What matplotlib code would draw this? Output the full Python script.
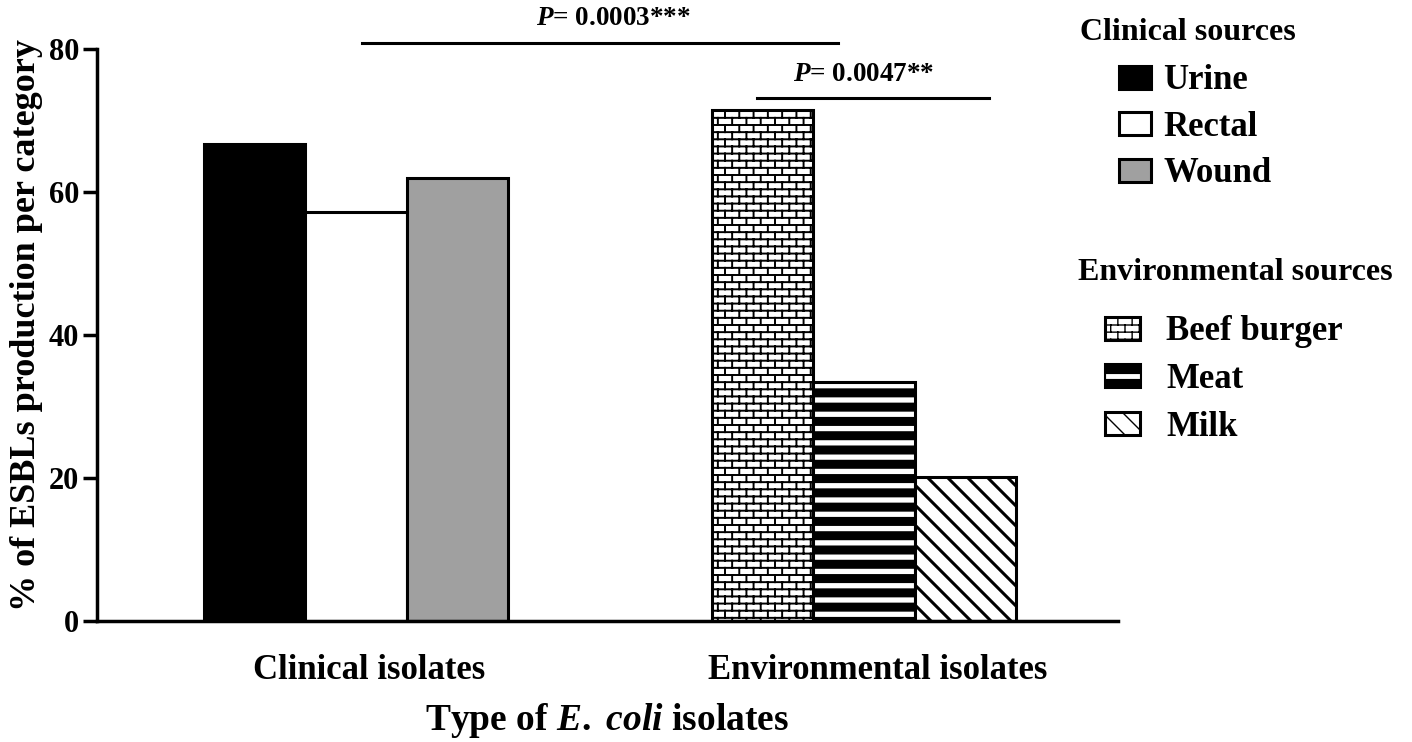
import warnings
import numpy as np
import matplotlib
matplotlib.use('Agg')
import matplotlib.pyplot as plt
import matplotlib.hatch as mhatch
from matplotlib.path import Path
from matplotlib.patches import Patch, Rectangle
from matplotlib.lines import Line2D
from matplotlib.legend_handler import HandlerPatch

warnings.filterwarnings('ignore')

# data
groups = ['Clinical isolates', 'Environmental isolates']
clinical_sources = ['Urine', 'Rectal', 'Wound']
clinical_values = [66.7, 57.2, 62.0]
env_sources = ['Beef burger', 'Meat', 'Milk']
env_values = [71.5, 33.4, 20.1]
p_values = ['0.0003***', '0.0047**']
yticks = [0, 20, 40, 60, 80]


# extra hatch patterns: B = brick, M = thick stripes, K = sparse back diagonal
class ExtraHatch(mhatch.HatchPatternBase):
    def __init__(self, hatch, density):
        self.segs = []
        if 'B' in hatch:
            rows, cols = 14, 7
            for r in range(-1, rows):
                y0 = (r + 0.5) / rows
                y1 = (r + 1.5) / rows
                if r >= 0:
                    self.segs.append(((0, y0), (1, y0)))
                shift = 0.5 / cols if r % 2 else 0
                for c in range(cols):
                    x = (c + 0.25) / cols + shift
                    self.segs.append(((x, y0), (x, y1)))
        if 'M' in hatch:
            n = 7
            for k in range(n):
                y = (k + 0.5) / n
                self.segs.append(((0, y), (1, y)))
        if 'K' in hatch:
            n = 5
            for k in range(-n, n + 1):
                o = (k + 0.5) / n
                self.segs.append(((o, 1), (o + 1, 0)))
        self.num_vertices = len(self.segs) * 2

    def set_vertices_and_codes(self, vertices, codes):
        vertices[:] = np.array(self.segs, dtype=float).reshape(-1, 2)
        codes[0::2] = Path.MOVETO
        codes[1::2] = Path.LINETO


mhatch._hatch_types.append(ExtraHatch)


# legend key for the striped bar: black box with one white line
class StripeHandler(HandlerPatch):
    def create_artists(self, legend, orig_handle, xdescent, ydescent,
                       width, height, fontsize, trans):
        r = Rectangle((-xdescent, -ydescent), width, height, facecolor='black',
                      edgecolor='black', linewidth=2.2, transform=trans)
        ym = -ydescent + height / 2
        ln = Line2D([-xdescent + 2, -xdescent + width - 2], [ym, ym],
                    color='white', lw=3.5, transform=trans)
        return [r, ln]


plt.rcParams['font.family'] = 'Liberation Serif'
plt.rcParams['font.weight'] = 'bold'
plt.rcParams['axes.labelweight'] = 'bold'
plt.rcParams['mathtext.fontset'] = 'custom'
plt.rcParams['mathtext.rm'] = 'Liberation Serif:bold'
plt.rcParams['mathtext.it'] = 'Liberation Serif:bold:italic'
plt.rcParams['mathtext.bf'] = 'Liberation Serif:bold'

clin_colors = ['black', 'white', '#a0a0a0']
env_hatches = [('B', 1.4), ('M', 6.5), ('K', 2.2)]


def set_hlw(p, lw):
    if hasattr(p, 'set_hatch_linewidth'):
        p.set_hatch_linewidth(lw)


fig = plt.figure(figsize=(14.12, 7.42), dpi=100)
ax = fig.add_axes([0.0687, 0.163, 0.7231, 0.771])

centers = [2.5, 7.5]
offsets = [-1, 0, 1]

for off, val, col in zip(offsets, clinical_values, clin_colors):
    ax.bar(centers[0] + off, val, width=1.0, facecolor=col,
           edgecolor='black', linewidth=2.2)

for off, val, (h, lw) in zip(offsets, env_values, env_hatches):
    bars = ax.bar(centers[1] + off, val, width=1.0, facecolor='white',
                  edgecolor='black', linewidth=2.2, hatch=h)
    for b in bars:
        set_hlw(b, lw)

ax.set_xlim(-0.05, 10.0)
ax.set_ylim(0, 80)
ax.set_yticks(yticks)
ax.set_xticks([c + 0.13 for c in centers])
ax.set_xticklabels(groups, fontsize=25)
ax.tick_params(axis='x', length=0, pad=24)
ax.tick_params(axis='y', length=10, width=2.5, labelsize=22, pad=3)
for s in ['top', 'right']:
    ax.spines[s].set_visible(False)
for s in ['left', 'bottom']:
    ax.spines[s].set_linewidth(2.5)

ax.set_ylabel('% of ESBLs production per category', fontsize=26)
ax.yaxis.set_label_coords(-0.053, 0.517)
ax.set_xlabel(r'Type of $\mathit{E.}$ $\mathit{coli}$ isolates', fontsize=27,
              labelpad=10)

# significance brackets
ax.plot([2.56, 7.24], [80.8, 80.8], color='black', lw=2.2, clip_on=False)
ax.text(5.03, 84.3, r'$\mathit{P}$= ' + p_values[0], ha='center', va='center',
        fontsize=19.5, clip_on=False)
ax.plot([6.45, 8.73], [73.1, 73.1], color='black', lw=2.2, clip_on=False)
ax.text(7.5, 76.4, r'$\mathit{P}$= ' + p_values[1], ha='center', va='center',
        fontsize=19.5, clip_on=False)

# legends
fig.text(1080 / 1412, 1 - 33 / 742, 'Clinical sources', fontsize=23,
         ha='left', va='center')
h1 = [Patch(facecolor=c, edgecolor='black', linewidth=2.2) for c in clin_colors]
leg1 = fig.legend(h1, clinical_sources, loc='upper left',
                  bbox_to_anchor=(1102 / 1412, 1 - 47 / 742), frameon=False,
                  fontsize=25, handlelength=0.92, handleheight=0.63,
                  handletextpad=0.35, labelspacing=0.39, borderpad=0)

fig.text(1078 / 1412, 1 - 273 / 742, 'Environmental sources', fontsize=23,
         ha='left', va='center')
h2 = []
for h, lw in env_hatches:
    p = Patch(facecolor='white', edgecolor='black', linewidth=2.2, hatch=h)
    set_hlw(p, lw)
    h2.append(p)
leg2 = fig.legend(h2, env_sources, loc='upper left',
                  bbox_to_anchor=(1088 / 1412, 1 - 298 / 742), frameon=False,
                  fontsize=25, handlelength=1.0, handleheight=0.63,
                  handletextpad=0.75, labelspacing=0.42, borderpad=0,
                  handler_map={h2[1]: StripeHandler()})

fig.savefig('out.png', dpi=100)
